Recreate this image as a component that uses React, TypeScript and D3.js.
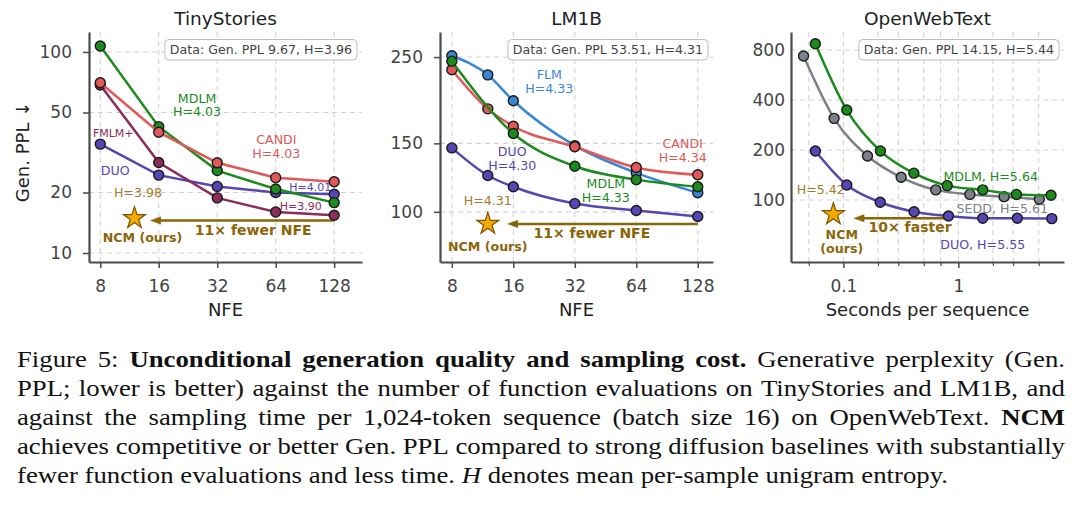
import React, { useEffect, useRef } from 'react';
import * as d3 from 'd3';

const WIDTH = 1080;
const HEIGHT = 505;
const FONT = '"DejaVu Sans", sans-serif';
const SERIF = '"Liberation Serif", "Times New Roman", serif';

// plot area shared by all three panels (pixels)
const PLOT_TOP = 32;
const PLOT_BOTTOM = 262;

// ---------- data ----------
const nfeSteps = [8, 16, 32, 64, 128];
const nfeStepsFine = [8, 12, 16, 32, 64, 128];

// TinyStories, Gen. PPL per NFE
const tinyMdlm = [107, 42.5, 25.7, 20.8, 17.8];
const tinyCandi = [70.3, 39.9, 28.1, 23.7, 22.6];
const tinyFmlm = [68.5, 28.2, 18.8, 16.0, 15.4];
const tinyDuo = [34.8, 24.4, 21.4, 20.0, 19.6];

// LM1B, Gen. PPL per NFE (MDLM has no NFE=12 run)
const lmFlm = [252, 225, 193, 148, 126, 112];
const lmCandi = [232, 184, 166, 147, 130, 124.5];
const lmMdlm = [244, 159, 131, 121, 116];
const lmDuo = [146, 124, 116, 105, 100.8, 97.3];

// OpenWebText, seconds per sequence vs Gen. PPL
const owtMdlmSec = [0.057, 0.107, 0.21, 0.41, 0.8, 1.63, 3.2, 6.4];
const owtMdlm = [872, 348, 197, 145, 122, 115, 108, 106.7];
const owtSeddSec = [0.045, 0.083, 0.162, 0.318, 0.636, 1.26, 2.5, 5.06];
const owtSedd = [736, 310, 184, 137, 115, 108, 104.7, 101];
const owtDuoSec = [0.057, 0.107, 0.209, 0.412, 0.82, 1.63, 3.26, 6.5];
const owtDuo = [197, 123, 96.9, 85, 80.1, 77.6, 77.6, 77.2];

// NCM (ours): [x, Gen. PPL]
const ncmTiny = [12, 14.9];
const ncmLm = [12, 93.1];
const ncmOwt = [0.0818, 82];

const tinyTicksY = [10, 20, 50, 100];
const lmTicksY = [100, 150, 250];
const owtTicksY = [100, 200, 400, 800];
const owtTicksX = [0.1, 1];
const owtMinorX = [0.05, 0.2, 0.3, 0.5, 0.7, 2, 3, 5];

const dataNotes = ['Data: Gen. PPL 9.67, H=3.96', 'Data: Gen. PPL 53.51, H=4.31', 'Data: Gen. PPL 14.15, H=5.44'];

// ---------- colours ----------
const C = {
  mdlm: '#1c8a1c',
  candi: '#e05858',
  fmlm: '#8b2c5c',
  duo: '#5646b4',
  flm: '#3a86d6',
  sedd: '#7b8089',
  star: '#f4aa00',
  starEdge: '#7a5200',
  gold: '#8b6508',
  goldLight: '#a27c2c',
  spine: '#4a4a4a',
  grid: '#d2d2d2',
};

type Note = { lines: string[]; x: number; y: number; color: string; size?: number; bold?: boolean };
type Series = { color: string; xs: number[]; ys: number[] };

const panels = [
  {
    title: 'TinyStories',
    left: 89,
    right: 362,
    xBase: 2,
    xDomain: [7.0, 178],
    yDomain: [9.02, 125.7],
    xTicks: nfeSteps,
    xMinor: [] as number[],
    yTicks: tinyTicksY,
    yTickLen: 6,
    yPad: 11,
    xLabel: 'NFE',
    yLabel: 'Gen. PPL ↓',
    curve: d3.curveLinear,
    note: dataNotes[0],
    series: [
      { color: C.duo, xs: nfeSteps, ys: tinyDuo },
      { color: C.fmlm, xs: nfeSteps, ys: tinyFmlm },
      { color: C.mdlm, xs: nfeSteps, ys: tinyMdlm },
      { color: C.candi, xs: nfeSteps, ys: tinyCandi },
    ] as Series[],
    ncm: ncmTiny,
    arrow: { from: 128, to: 14.4, y: 14.5 },
    notes: [
      { lines: ['MDLM', 'H=4.03'], x: 25.2, y: 59, color: C.mdlm },
      { lines: ['CANDI', 'H=4.03'], x: 64.5, y: 36.5, color: C.candi },
      { lines: ['FMLM+'], x: 9.33, y: 39.5, color: C.fmlm, size: 11 },
      { lines: ['DUO'], x: 9.55, y: 25.6, color: C.duo },
      { lines: ['H=4.01'], x: 96.3, y: 21.4, color: C.duo, size: 11 },
      { lines: ['H=3.90'], x: 86.2, y: 17.2, color: C.fmlm, size: 11 },
      { lines: ['H=3.98'], x: 12.5, y: 19.9, color: C.goldLight },
      { lines: ['NCM (ours)'], x: 13.2, y: 11.9, color: C.gold, bold: true },
      { lines: ['11× fewer NFE'], x: 49, y: 13.0, color: C.gold, bold: true, size: 14 },
    ] as Note[],
  },
  {
    title: 'LM1B',
    left: 440,
    right: 713,
    xBase: 2,
    xDomain: [7.0, 152],
    yDomain: [74.3, 290],
    xTicks: nfeSteps,
    xMinor: [] as number[],
    yTicks: lmTicksY,
    yTickLen: 6,
    yPad: 11,
    xLabel: 'NFE',
    yLabel: '',
    curve: d3.curveMonotoneX,
    note: dataNotes[1],
    series: [
      { color: C.flm, xs: nfeStepsFine, ys: lmFlm },
      { color: C.candi, xs: nfeStepsFine, ys: lmCandi },
      { color: C.mdlm, xs: nfeSteps, ys: lmMdlm },
      { color: C.duo, xs: nfeStepsFine, ys: lmDuo },
    ] as Series[],
    ncm: ncmLm,
    arrow: { from: 128, to: 14.9, y: 93.1 },
    notes: [
      { lines: ['FLM', 'H=4.33'], x: 24, y: 226, color: C.flm },
      { lines: ['DUO', 'H=4.30'], x: 15.8, y: 143, color: C.duo },
      { lines: ['CANDI', 'H=4.34'], x: 108, y: 149.6, color: C.candi },
      { lines: ['MDLM', 'H=4.33'], x: 45.4, y: 118, color: C.mdlm },
      { lines: ['H=4.31'], x: 12, y: 106.7, color: C.goldLight },
      { lines: ['NCM (ours)'], x: 12, y: 81.4, color: C.gold, bold: true },
      { lines: ['11× fewer NFE'], x: 38.8, y: 88.3, color: C.gold, bold: true, size: 14 },
    ] as Note[],
  },
  {
    title: 'OpenWebText',
    left: 791,
    right: 1064,
    xBase: 10,
    xDomain: [0.035, 8.3],
    yDomain: [42.3, 1027],
    xTicks: owtTicksX,
    xMinor: owtMinorX,
    yTicks: owtTicksY,
    yTickLen: 0,
    yPad: 6,
    xLabel: 'Seconds per sequence',
    yLabel: '',
    curve: d3.curveMonotoneX,
    note: dataNotes[2],
    series: [
      { color: C.sedd, xs: owtSeddSec, ys: owtSedd },
      { color: C.mdlm, xs: owtMdlmSec, ys: owtMdlm },
      { color: C.duo, xs: owtDuoSec, ys: owtDuo },
    ] as Series[],
    ncm: ncmOwt,
    arrow: { from: 0.876, to: 0.122, y: 77.6 },
    notes: [
      { lines: ['MDLM, H=5.64'], x: 1.91, y: 138, color: C.mdlm },
      { lines: ['SEDD, H=5.61'], x: 2.41, y: 89.1, color: C.sedd },
      { lines: ['DUO, H=5.55'], x: 1.63, y: 53.6, color: C.duo },
      { lines: ['H=5.42'], x: 0.0636, y: 114.9, color: C.goldLight },
      { lines: ['NCM', '(ours)'], x: 0.0968, y: 61.6, color: C.gold, bold: true },
      { lines: ['10× faster'], x: 0.38, y: 69.1, color: C.gold, bold: true, size: 14 },
    ] as Note[],
  },
];

const captionLines: [string, string][][] = [
  [['Figure 5:', 'n'], ['Unconditional generation quality and sampling cost.', 'b'], ['Generative perplexity (Gen.', 'n']],
  [['PPL; lower is better) against the number of function evaluations on TinyStories and LM1B, and', 'n']],
  [['against the sampling time per 1,024-token sequence (batch size 16) on OpenWebText.', 'n'], ['NCM', 'b']],
  [['achieves competitive or better Gen. PPL compared to strong diffusion baselines with substantially', 'n']],
  [['fewer function evaluations and less time.', 'n'], ['H', 'i'], ['denotes mean per-sample unigram entropy.', 'n']],
];

function drawPanel(svg: any, p: (typeof panels)[number]) {
  const x = d3.scaleLog().base(p.xBase).domain(p.xDomain).range([p.left, p.right]);
  const y = d3.scaleLog().domain(p.yDomain).range([PLOT_BOTTOM, PLOT_TOP]);
  const g = svg.append('g').attr('font-family', FONT);

  // dashed grid
  g.append('g')
    .selectAll('line')
    .data(p.xTicks.concat(p.xMinor))
    .join('line')
    .attr('x1', (d: number) => x(d))
    .attr('x2', (d: number) => x(d))
    .attr('y1', PLOT_TOP)
    .attr('y2', PLOT_BOTTOM)
    .attr('stroke', C.grid)
    .attr('stroke-width', 1.1)
    .attr('stroke-dasharray', '5,4');
  g.append('g')
    .selectAll('line')
    .data(p.yTicks)
    .join('line')
    .attr('x1', p.left)
    .attr('x2', p.right)
    .attr('y1', (d: number) => y(d))
    .attr('y2', (d: number) => y(d))
    .attr('stroke', C.grid)
    .attr('stroke-width', 1.1)
    .attr('stroke-dasharray', '5,4');

  // data summary box
  const noteText = g.append('text')
    .attr('x', p.right - 10)
    .attr('y', 54)
    .attr('text-anchor', 'end')
    .attr('font-size', 12.6)
    .attr('fill', '#444')
    .text(p.note);
  const bb = (noteText.node() as SVGTextElement).getBBox();
  g.insert('rect', () => noteText.node())
    .attr('x', bb.x - 5)
    .attr('y', 39.5)
    .attr('width', bb.width + 10)
    .attr('height', 20.5)
    .attr('rx', 4)
    .attr('fill', '#fff')
    .attr('fill-opacity', 0.85)
    .attr('stroke', '#bdbdbd')
    .attr('stroke-width', 1);

  // text annotations
  p.notes.forEach((n) => {
    const size = n.size ?? 12.6;
    const t = g.append('text')
      .attr('x', x(n.x))
      .attr('y', y(n.y))
      .attr('text-anchor', 'middle')
      .attr('font-size', size)
      .attr('font-weight', n.bold ? 'bold' : null)
      .attr('fill', n.color);
    n.lines.forEach((line, i) => {
      t.append('tspan')
        .attr('x', x(n.x))
        .attr('dy', i === 0 ? '0.36em' : size * 1.1)
        .text(line);
    });
  });

  // NCM arrow
  const ay = y(p.arrow.y);
  const tip = x(p.arrow.to);
  g.append('line')
    .attr('x1', x(p.arrow.from))
    .attr('x2', tip + 9)
    .attr('y1', ay)
    .attr('y2', ay)
    .attr('stroke', C.gold)
    .attr('stroke-width', 2.5);
  g.append('path')
    .attr('d', `M${tip},${ay}L${tip + 11},${ay - 4}L${tip + 11},${ay + 4}Z`)
    .attr('fill', C.gold);

  // NCM star
  g.append('path')
    .attr('transform', `translate(${x(p.ncm[0])},${y(p.ncm[1])})`)
    .attr('d', d3.symbol(d3.symbolStar, 150)())
    .attr('fill', C.star)
    .attr('stroke', C.starEdge)
    .attr('stroke-width', 1.2);

  // baselines
  const line = d3.line<number>()
    .x((_, i) => 0)
    .curve(p.curve);
  p.series.forEach((s) => {
    const pts = s.xs.map((v, i) => [x(v), y(s.ys[i])] as [number, number]);
    g.append('path')
      .attr('d', d3.line().curve(p.curve)(pts))
      .attr('fill', 'none')
      .attr('stroke', s.color)
      .attr('stroke-width', 2.5);
    g.append('g')
      .selectAll('circle')
      .data(pts)
      .join('circle')
      .attr('cx', (d: [number, number]) => d[0])
      .attr('cy', (d: [number, number]) => d[1])
      .attr('r', 5)
      .attr('fill', s.color)
      .attr('stroke', '#1a1a1a')
      .attr('stroke-width', 1.4);
  });
  void line;

  // axes
  const xAxis = g.append('g')
    .attr('transform', `translate(0,${PLOT_BOTTOM})`)
    .attr('color', C.spine)
    .call(d3.axisBottom(x).tickValues(p.xTicks).tickFormat((d: any) => String(d)).tickSize(6).tickSizeOuter(0).tickPadding(12));
  if (p.xMinor.length) {
    g.append('g')
      .attr('transform', `translate(0,${PLOT_BOTTOM})`)
      .attr('color', C.spine)
      .call(d3.axisBottom(x).tickValues(p.xMinor).tickFormat(() => '').tickSize(4).tickSizeOuter(0))
      .call((a: any) => a.select('.domain').remove())
      .call((a: any) => a.selectAll('.tick line').attr('stroke-width', 1.2));
  }
  const yAxis = g.append('g')
    .attr('transform', `translate(${p.left},0)`)
    .attr('color', C.spine)
    .call(d3.axisLeft(y).tickValues(p.yTicks).tickFormat((d: any) => String(d)).tickSize(p.yTickLen).tickSizeOuter(0).tickPadding(p.yPad));
  [xAxis, yAxis].forEach((a) => {
    a.attr('font-family', FONT).attr('font-size', 17);
    a.select('.domain').attr('stroke-width', 2.2);
    a.selectAll('.tick line').attr('stroke-width', 1.5);
    a.selectAll('.tick text').attr('fill', '#444');
  });

  // titles and labels
  const cx = (p.left + p.right) / 2;
  g.append('text')
    .attr('x', cx)
    .attr('y', 25)
    .attr('text-anchor', 'middle')
    .attr('font-size', 18.5)
    .attr('fill', '#222')
    .text(p.title);
  g.append('text')
    .attr('x', cx)
    .attr('y', 316)
    .attr('text-anchor', 'middle')
    .attr('font-size', 18)
    .attr('fill', '#222')
    .text(p.xLabel);
  if (p.yLabel) {
    g.append('text')
      .attr('transform', `translate(28.5,152) rotate(-90)`)
      .attr('text-anchor', 'middle')
      .attr('font-size', 18)
      .attr('fill', '#222')
      .text(p.yLabel);
  }
}

function drawCaption(svg: any) {
  const left = 17;
  const right = 1065;
  const lastLineEnd = 948;
  const baselines = [367, 396, 425, 454, 483];
  const cap = svg.append('g')
    .attr('font-family', SERIF)
    .attr('font-size', 24)
    .attr('fill', '#111');

  const probe = cap.append('text').text('x x');
  const probe2 = cap.append('text').text('xx');
  const space = (probe.node() as SVGTextElement).getComputedTextLength() - (probe2.node() as SVGTextElement).getComputedTextLength();
  probe.remove();
  probe2.remove();

  const rows = captionLines.map((segs, i) => {
    const words = segs.flatMap(([t, s]) => t.split(' ').map((w) => ({ w, s })));
    const nodes = words.map(({ w, s }) => cap.append('text')
      .attr('y', baselines[i])
      .attr('font-weight', s === 'b' ? 'bold' : null)
      .attr('font-style', s === 'i' ? 'italic' : null)
      .text(w));
    const widths = nodes.map((n: any) => (n.node() as SVGTextElement).getComputedTextLength());
    return { nodes, widths };
  });

  // widen glyphs slightly so the last (ragged) line ends where it should
  const last = rows[rows.length - 1];
  const natural = d3.sum(last.widths) + space * (last.widths.length - 1);
  const sx = (lastLineEnd - left) / natural;
  cap.attr('transform', `translate(${left},0) scale(${sx},1)`);
  const target = (right - left) / sx;

  rows.forEach((row, i) => {
    const total = d3.sum(row.widths);
    const gap = i === rows.length - 1 ? space : (target - total) / (row.widths.length - 1);
    let pos = 0;
    row.nodes.forEach((n: any, j: number) => {
      n.attr('x', pos);
      pos += row.widths[j] + gap;
    });
  });
}

export default function App() {
  const ref = useRef<SVGSVGElement>(null);

  useEffect(() => {
    const svg = d3.select(ref.current);
    svg.selectAll('*').remove();
    panels.forEach((p) => drawPanel(svg, p));
    drawCaption(svg);
  }, []);

  return (
    <div style={{ position: 'fixed', top: 0, left: 0, width: WIDTH, height: HEIGHT, background: '#fff' }}>
      <svg ref={ref} width={WIDTH} height={HEIGHT} />
    </div>
  );
}
